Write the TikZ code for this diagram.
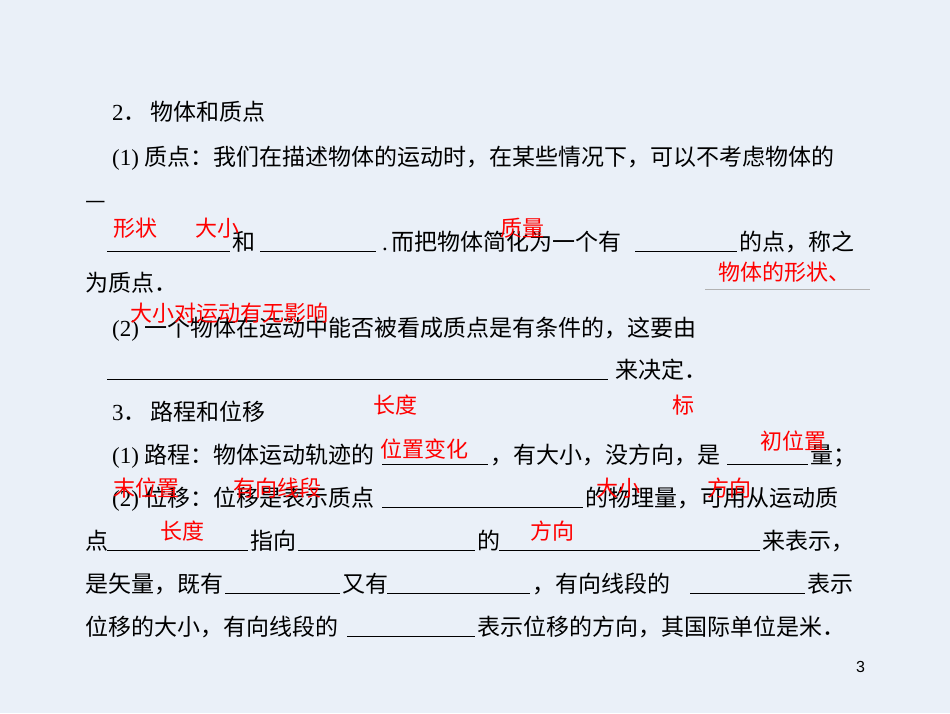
\documentclass[tikz,border=0pt]{standalone}
\usepackage{fontspec}
\setmainfont{Liberation Serif}
\newfontfamily\cjk{Noto Sans CJK SC}
\newfontfamily\arialf{Liberation Sans}
\definecolor{bgc}{HTML}{EAF0F8}
\definecolor{ann}{HTML}{FF0000}
\begin{document}
\begin{tikzpicture}[x=1pt,y=-1pt,
 t/.style={anchor=base west,inner sep=0pt,font=\fontsize{23}{26}\selectfont},
 r/.style={anchor=base west,inner sep=0pt,text=ann,font=\cjk\fontsize{22}{24}\selectfont},
 bl/.style={line width=0.7pt}]
\fill[bgc] (0,0) rectangle (950,713);
\useasboundingbox (0,0) rectangle (950,713);
\newcommand\C[1]{{\cjk #1}}
% line 1
\node[t] (a1) at (112,120) {2\C{．}\,\C{物体和质点}};
\node[t] (a2) at (112,165) {(1) \C{质点：我们在描述物体的运动时，在某些情况下，可以不考虑物体的}};
\node[t] (a3) at (85,208) {\C{—}};
% row 242
\draw[bl] (107,251) coordinate (b1) -- (230,251) coordinate (b2);
\node[t] (a4) at (232,250) {\C{和}};
\draw[bl] (260,251) coordinate (b3) -- (376,251) coordinate (b4);
\node[t] (a5) at (382,250) {.\,\C{而把物体简化为一个有}};
\draw[bl] (635,251) coordinate (b5) -- (737,251) coordinate (b6);
\node[t] (a6) at (739,250) {\C{的点，称之}};
\node[t] (a7) at (85,291) {\C{为质点．}};
\node[t] (a8) at (112,336) {(2) \C{一个物体在运动中能否被看成质点是有条件的，这要由}};
\draw[bl] (107,379) coordinate (b7) -- (608,379) coordinate (b8);
\node[t] (a9) at (615,378) {\C{来决定．}};
\node[t] (a10) at (112,420) {3\C{．}\,\C{路程和位移}};
% row 455
\node[t] (a11) at (112,463) {(1) \C{路程：物体运动轨迹的}};
\draw[bl] (382,464) coordinate (b9) -- (488,464) coordinate (b10);
\node[t] (a12) at (490,463) {\C{，有大小，没方向，是}};
\draw[bl] (727,464) coordinate (b11) -- (808,464) coordinate (b12);
\node[t] (a13) at (810,463) {\C{量；}};
% row 498
\node[t] (a14) at (112,506) {(2) \C{位移：位移是表示质点}};
\draw[bl] (382,507) coordinate (b13) -- (583,507) coordinate (b14);
\node[t] (a15) at (585,506) {\C{的物理量，可用从运动质}};
% row 541
\node[t] (a16) at (85,549) {\C{点}};
\draw[bl] (107,550) coordinate (b15) -- (248,550) coordinate (b16);
\node[t] (a17) at (250,549) {\C{指向}};
\draw[bl] (298,550) coordinate (b17) -- (475,550) coordinate (b18);
\node[t] (a18) at (477,549) {\C{的}};
\draw[bl] (499,550) coordinate (b19) -- (760,550) coordinate (b20);
\node[t] (a19) at (762,549) {\C{来表示，}};
% row 584
\node[t] (a20) at (85,592) {\C{是矢量，既有}};
\draw[bl] (225,593) coordinate (b21) -- (340,593) coordinate (b22);
\node[t] (a21) at (342,592) {\C{又有}};
\draw[bl] (387,593) coordinate (b23) -- (530,593) coordinate (b24);
\node[t] (a22) at (532,592) {\C{，有向线段的}};
\draw[bl] (690,593) coordinate (b25) -- (805,593) coordinate (b26);
\node[t] (a23) at (807,592) {\C{表示}};
% row 627
\node[t] (a24) at (85,635) {\C{位移的大小，有向线段的}};
\draw[bl] (347,636) coordinate (b27) -- (475,636) coordinate (b28);
\node[t] (a25) at (477,635) {\C{表示位移的方向，其国际单位是米．}};
\node[t,font=\arialf\fontsize{16}{18}\selectfont] (pg) at (856,672) {3};
% red annotations
\node[r] (r1) at (113,236) {形状};
\node[r] (r2) at (195,236) {大小};
\node[r] (r3) at (500,236) {质量};
\node[r] (r4) at (718,280) {物体的形状、};
\draw[gray!60,line width=0.5pt] (705,289) coordinate (g1) -- (870,289) coordinate (g2);
\node[r] (r5) at (130,321) {大小对运动有无影响};
\node[r] (r6) at (373,413) {长度};
\node[r] (r7) at (672,413) {标};
\node[r] (r8) at (380,457) {位置变化};
\node[r] (r9) at (760,449) {初位置};
\node[r] (r10) at (113,496) {末位置};
\node[r] (r11) at (233,496) {有向线段};
\node[r] (r12) at (596,496) {大小};
\node[r] (r13) at (707,496) {方向};
\node[r] (r14) at (160,539) {长度};
\node[r] (r15) at (530,539) {方向};
\end{tikzpicture}
\end{document}
